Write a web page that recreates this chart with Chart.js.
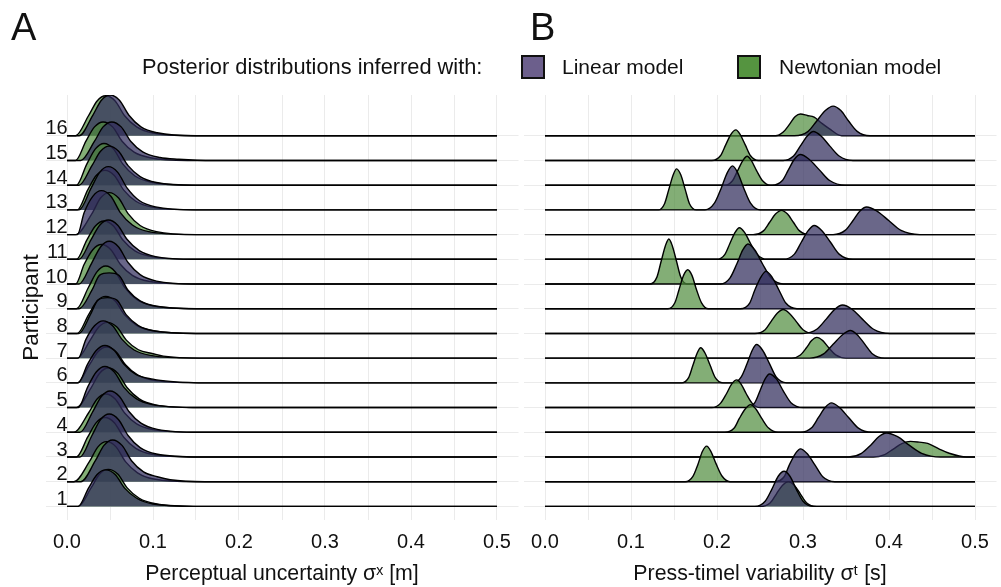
<!DOCTYPE html>
<html lang="en">
<head>
<meta charset="UTF-8">
<title>Posterior ridgelines</title>
<script src="https://cdn.jsdelivr.net/npm/chart.js"></script>
<style>
  body { margin: 0; background: #fff; }
  #wrap { position: relative; width: 1001px; height: 587px; font-family: 'Liberation Sans', Arial, sans-serif; color: #111; }
  canvas { position: absolute; left: 0; top: 0; }
  .lbl { position: absolute; white-space: nowrap; line-height: 1; }
  .big { font-size: 38px; }
  .leg { font-size: 21px; }
  .box { position: absolute; width: 20px; height: 20px; border: 2px solid #111; }
</style>
</head>
<body>
<div id="wrap">
  <canvas id="chartA" width="1001" height="587"></canvas>
  <canvas id="chartB" width="1001" height="587"></canvas>
  <div class="lbl big" style="left:11px; top:8px;">A</div>
  <div class="lbl big" style="left:530px; top:8px;">B</div>
  <div class="lbl leg" style="left:142px; top:56px; font-size:21.8px;">Posterior distributions inferred with:</div>
  <div class="box" style="left:521px; top:55px; background:#6c5f8c;"></div>
  <div class="lbl leg" style="left:562px; top:56px;">Linear model</div>
  <div class="box" style="left:737px; top:55px; background:#559440;"></div>
  <div class="lbl leg" style="left:779px; top:56px;">Newtonian model</div>
</div>
<script>
  const participants = [1, 2, 3, 4, 5, 6, 7, 8, 9, 10, 11, 12, 13, 14, 15, 16];
  const xGrid = [0, 0.05, 0.1, 0.15, 0.2, 0.25, 0.3, 0.35, 0.4, 0.45, 0.5];

  // [x, ridge height in rows] per participant (index 0 = participant 1)
  // panel A: perceptual uncertainty
  const linearA = [
    [[.013,0],[.025,.74],[.035,1.29],[.045,1.48],[.056,1.29],[.067,.74],[.081,.33],[.1,.1],[.15,0]],
    [[.016,0],[.033,.85],[.043,1.47],[.053,1.69],[.064,1.47],[.075,.85],[.089,.4],[.105,.2],[.12,.08],[.16,0]],
    [[.015,0],[.029,.87],[.039,1.51],[.049,1.74],[.06,1.51],[.071,.87],[.085,.38],[.104,.12],[.155,0]],
    [[.015,0],[.03,.84],[.04,1.45],[.05,1.67],[.061,1.45],[.072,.84],[.086,.37],[.105,.12],[.155,0]],
    [[.013,0],[.024,.83],[.034,1.44],[.044,1.66],[.055,1.44],[.066,.83],[.08,.37],[.099,.12],[.15,0]],
    [[.013,0],[.024,.76],[.034,1.31],[.044,1.51],[.055,1.31],[.066,.76],[.08,.34],[.1,.15],[.12,.06],[.165,0]],
    [[.013,0],[.022,.76],[.032,1.31],[.042,1.51],[.053,1.31],[.064,.76],[.078,.33],[.097,.11],[.145,0]],
    [[.014,0],[.027,.75],[.036,1.35],[.047,1.45],[.058,1.35],[.069,.75],[.083,.32],[.102,.1],[.15,0]],
    [[.014,0],[.029,.75],[.038,1.36],[.049,1.45],[.06,1.36],[.071,.75],[.085,.32],[.104,.1],[.15,0]],
    [[.014,0],[.029,.87],[.039,1.5],[.049,1.73],[.06,1.5],[.071,.87],[.085,.38],[.104,.12],[.15,0]],
    [[.014,0],[.028,.8],[.038,1.38],[.048,1.59],[.059,1.38],[.07,.8],[.084,.35],[.103,.11],[.15,0]],
    [[.012,0],[.02,.89],[.03,1.55],[.04,1.78],[.051,1.55],[.062,.89],[.076,.39],[.095,.12],[.145,0]],
    [[.014,0],[.028,.88],[.038,1.52],[.048,1.75],[.059,1.52],[.07,.88],[.084,.38],[.103,.12],[.15,0]],
    [[.014,0],[.029,.79],[.039,1.37],[.049,1.58],[.06,1.37],[.071,.79],[.085,.35],[.104,.11],[.15,0]],
    [[.016,0],[.032,.78],[.042,1.36],[.052,1.56],[.063,1.36],[.074,.78],[.088,.35],[.108,.12],[.13,.05],[.17,0]],
    [[.014,0],[.03,.83],[.04,1.44],[.05,1.65],[.061,1.44],[.072,.83],[.086,.36],[.105,.12],[.15,0]]
  ];
  const newtonA = [
    [[.013,0],[.028,.75],[.038,1.31],[.048,1.5],[.059,1.31],[.07,.75],[.084,.33],[.103,.11],[.155,0]],
    [[.008,0],[.026,.81],[.036,1.41],[.046,1.62],[.057,1.41],[.068,.81],[.082,.36],[.101,.11],[.15,0]],
    [[.011,0],[.024,.8],[.034,1.39],[.044,1.6],[.055,1.39],[.066,.8],[.08,.35],[.099,.11],[.15,0]],
    [[.008,0],[.025,.78],[.035,1.35],[.045,1.55],[.056,1.35],[.067,.78],[.081,.34],[.1,.11],[.15,0]],
    [[.011,0],[.028,.8],[.038,1.39],[.048,1.6],[.059,1.39],[.07,.8],[.084,.35],[.103,.11],[.155,0]],
    [[.012,0],[.026,.73],[.036,1.26],[.046,1.45],[.057,1.26],[.068,.73],[.082,.32],[.101,.1],[.15,0]],
    [[.012,0],[.027,.73],[.037,1.26],[.047,1.45],[.058,1.26],[.069,.73],[.083,.34],[.1,.18],[.112,.08],[.155,0]],
    [[.012,0],[.025,.75],[.035,1.31],[.045,1.5],[.056,1.31],[.067,.75],[.081,.33],[.1,.11],[.15,0]],
    [[.011,0],[.025,.87],[.035,1.5],[.045,1.73],[.056,1.5],[.067,.87],[.081,.38],[.1,.12],[.15,0]],
    [[.01,0],[.02,.8],[.03,1.39],[.04,1.6],[.051,1.39],[.062,.8],[.076,.35],[.095,.11],[.145,0]],
    [[.011,0],[.023,.78],[.033,1.35],[.043,1.55],[.054,1.35],[.065,.78],[.079,.34],[.098,.11],[.145,0]],
    [[.01,0],[.029,.85],[.039,1.48],[.049,1.7],[.06,1.48],[.071,.85],[.085,.37],[.104,.12],[.15,0]],
    [[.012,0],[.024,.8],[.034,1.39],[.044,1.6],[.055,1.39],[.066,.8],[.08,.35],[.099,.11],[.145,0]],
    [[.011,0],[.023,.85],[.033,1.47],[.043,1.69],[.054,1.47],[.065,.85],[.079,.37],[.098,.12],[.145,0]],
    [[.01,0],[.022,.78],[.032,1.36],[.042,1.56],[.053,1.36],[.064,.78],[.078,.34],[.097,.11],[.14,0]],
    [[.01,0],[.025,.81],[.035,1.41],[.045,1.62],[.056,1.41],[.067,.81],[.081,.36],[.1,.11],[.145,0]]
  ];
  // panel B: press-time variability
  const linearB = [
    [[.244,0],[.256,.21],[.264,.71],[.271,1.21],[.278,1.42],[.285,1.21],[.292,.71],[.3,.21],[.312,0]],
    [[.267,0],[.278,.2],[.284,.67],[.291,1.13],[.297,1.33],[.305,1.13],[.314,.67],[.323,.2],[.337,0]],
    [[.353,0],[.368,.15],[.379,.49],[.388,.82],[.397,.97],[.41,.82],[.423,.49],[.438,.15],[.46,0]],
    [[.297,0],[.31,.18],[.318,.6],[.326,1.01],[.333,1.19],[.342,1.01],[.353,.6],[.364,.18],[.38,0]],
    [[.235,0],[.244,.2],[.25,.68],[.256,1.16],[.261,1.36],[.269,1.16],[.277,.68],[.286,.2],[.3,0]],
    [[.219,0],[.228,.23],[.235,.78],[.241,1.32],[.246,1.55],[.253,1.32],[.261,.78],[.269,.23],[.281,0]],
    [[.308,0],[.324,.17],[.335,.56],[.346,.95],[.355,1.12],[.363,.95],[.372,.56],[.381,.17],[.395,0]],
    [[.3,0],[.316,.17],[.327,.58],[.337,.98],[.346,1.15],[.357,.98],[.369,.58],[.382,.17],[.401,0]],
    [[.227,0],[.238,.23],[.244,.76],[.251,1.28],[.257,1.51],[.264,1.28],[.272,.76],[.28,.23],[.293,0]],
    [[.204,0],[.215,.24],[.223,.81],[.23,1.38],[.236,1.62],[.244,1.38],[.253,.81],[.263,.24],[.277,0]],
    [[.277,0],[.29,.21],[.298,.69],[.306,1.16],[.313,1.37],[.322,1.16],[.332,.69],[.342,.21],[.358,0]],
    [[.335,0],[.349,.17],[.358,.56],[.366,.95],[.374,1.12],[.386,.95],[.4,.56],[.414,.17],[.436,0]],
    [[.186,0],[.197,.27],[.205,.89],[.212,1.51],[.218,1.78],[.224,1.51],[.231,.89],[.239,.27],[.25,0]],
    [[.264,0],[.276,.19],[.283,.62],[.29,1.05],[.297,1.24],[.307,1.05],[.319,.62],[.331,.19],[.349,0]],
    [[.277,0],[.289,.18],[.297,.59],[.305,.99],[.312,1.17],[.321,.99],[.331,.59],[.342,.18],[.358,0]],
    [[.29,0],[.306,.18],[.316,.6],[.326,1.02],[.335,1.2],[.344,1.02],[.353,.6],[.363,.18],[.378,0]]
  ];
  const newtonB = [
    [[.25,0],[.262,.15],[.269,.5],[.276,.85],[.283,1.0],[.29,.85],[.297,.5],[.304,.15],[.316,0]],
    [[.163,0],[.172,.22],[.178,.72],[.183,1.22],[.188,1.44],[.193,1.22],[.199,.72],[.206,.22],[.215,0]],
    [[.382,0],[.395,.1],[.405,.32],[.415,.54],[.425,.63],[.435,.6],[.445,.55],[.458,.33],[.47,.15],[.49,0]],
    [[.209,0],[.22,.17],[.226,.56],[.233,.95],[.239,1.12],[.245,.95],[.252,.56],[.26,.17],[.271,0]],
    [[.194,0],[.204,.17],[.211,.56],[.217,.95],[.223,1.12],[.228,.95],[.234,.56],[.241,.17],[.25,0]],
    [[.159,0],[.167,.21],[.172,.71],[.177,1.21],[.181,1.42],[.186,1.21],[.192,.71],[.198,.21],[.207,0]],
    [[.287,0],[.297,.13],[.304,.42],[.31,.71],[.316,.84],[.323,.71],[.33,.42],[.338,.13],[.35,0]],
    [[.244,0],[.256,.15],[.263,.49],[.27,.82],[.277,.97],[.284,.82],[.292,.49],[.3,.15],[.312,0]],
    [[.143,0],[.151,.24],[.156,.79],[.161,1.34],[.166,1.58],[.171,1.34],[.176,.79],[.182,.24],[.19,0]],
    [[.122,0],[.13,.27],[.135,.91],[.14,1.55],[.144,1.82],[.148,1.55],[.153,.91],[.158,.27],[.165,0]],
    [[.2,0],[.209,.19],[.215,.64],[.221,1.09],[.226,1.28],[.232,1.09],[.239,.64],[.247,.19],[.258,0]],
    [[.242,0],[.254,.15],[.261,.49],[.268,.83],[.275,.98],[.282,.83],[.289,.49],[.296,.15],[.308,0]],
    [[.132,0],[.139,.25],[.144,.83],[.149,1.41],[.153,1.66],[.158,1.41],[.163,.83],[.168,.25],[.176,0]],
    [[.209,0],[.218,.18],[.224,.59],[.23,.99],[.235,1.17],[.24,.99],[.246,.59],[.253,.18],[.262,0]],
    [[.194,0],[.204,.19],[.21,.62],[.216,1.05],[.222,1.24],[.227,1.05],[.233,.62],[.239,.19],[.248,0]],
    [[.268,0],[.277,.15],[.284,.45],[.291,.78],[.297,.88],[.305,.82],[.313,.75],[.322,.5],[.33,.3],[.345,0]]
  ];

  const linearFill = 'rgba(48, 44, 92, 0.72)';
  const newtonFill = 'rgba(78, 140, 60, 0.7)';
  const gridColor = '#ebebeb';
  const textColor = '#111';
  const family = "'Liberation Sans', Arial, sans-serif";
  const tickFont = { family: family, size: 20 };
  const titleFont = { family: family, size: 21.3 };

  function ridgeDatasets(curves, color, shift) {
    return curves.map((pts, i) => {
      const row = participants[i];
      const full = [[0, 0], ...pts, [0.5, 0]];
      return {
        data: full.map(p => ({ x: p[0], y: row + p[1] })),
        fill: { value: row },
        backgroundColor: color,
        borderColor: '#000',
        borderWidth: 1.4,
        pointRadius: 0,
        cubicInterpolationMode: 'monotone',
        order: row * 2 + shift
      };
    });
  }

  function isTenth(v) {
    return Math.abs(v * 10 - Math.round(v * 10)) < 1e-6;
  }

  function makeChart(id, linear, newton, opts) {
    const ctx = document.getElementById(id).getContext('2d');
    return new Chart(ctx, {
      type: 'line',
      data: {
        datasets: [...ridgeDatasets(newton, newtonFill, 1), ...ridgeDatasets(linear, linearFill, 0)]
      },
      options: {
        responsive: false,
        animation: false,
        devicePixelRatio: 1,
        layout: { padding: opts.padding },
        plugins: { legend: { display: false }, tooltip: { enabled: false } },
        scales: {
          x: {
            type: 'linear',
            min: -0.025,
            max: 0.525,
            afterBuildTicks: s => { s.ticks = xGrid.map(v => ({ value: v })); },
            afterFit: s => { s.height = 67; },
            grid: { color: gridColor, drawTicks: false },
            border: { display: false },
            ticks: {
              autoSkip: false,
              maxRotation: 0,
              padding: 10,
              color: textColor,
              font: tickFont,
              callback: v => isTenth(v) ? v.toFixed(1) : ''
            },
            title: { display: true, text: opts.xTitle, color: textColor, font: titleFont, padding: { top: 0, bottom: 0 } }
          },
          y: {
            type: 'linear',
            min: 0.45,
            max: 17.65,
            afterBuildTicks: s => { s.ticks = participants.map(v => ({ value: v })); },
            afterFit: s => { s.width = opts.yWidth; },
            grid: { color: gridColor, drawTicks: false },
            border: { display: false },
            ticks: {
              display: opts.yLabels,
              mirror: true,
              crossAlign: 'far',
              padding: 0,
              labelOffset: -7,
              color: textColor,
              font: tickFont
            },
            title: { display: opts.yLabels, text: 'Participant', color: textColor, font: { family: family, size: 22.5 }, padding: { top: 18, bottom: 0 } }
          }
        }
      }
    });
  }

  makeChart('chartA', linearA, newtonA, {
    padding: { left: 0, top: 95, right: 482.5, bottom: 0 },
    yWidth: 45.5, yLabels: true, xTitle: 'Perceptual uncertainty σˣ [m]'
  });
  makeChart('chartB', linearB, newtonB, {
    padding: { left: 0, top: 95, right: 4.5, bottom: 0 },
    yWidth: 523.5, yLabels: false, xTitle: 'Press-timel variability σᵗ [s]'
  });
</script>
</body>
</html>
